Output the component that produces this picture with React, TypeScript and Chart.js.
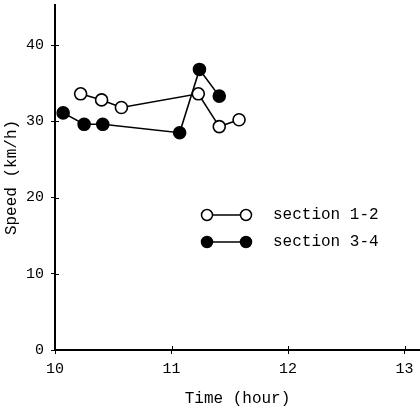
import React, { useEffect, useRef } from "react";
import { Chart, registerables } from "chart.js";

Chart.register(...registerables);

const SERIES_A_NAME = "section 1-2";
const SERIES_B_NAME = "section 3-4";
const timesA = [10.22, 10.4, 10.57, 11.23, 11.41, 11.58];
const speedA = [33.6, 32.8, 31.8, 33.6, 29.3, 30.2];
const timesB = [10.07, 10.25, 10.41, 11.07, 11.24, 11.41];
const speedB = [31.1, 29.6, 29.6, 28.5, 36.8, 33.3];
const xTicks = [10, 11, 12, 13];
const yTicks = [0, 10, 20, 30, 40];
const X_TITLE = "Time (hour)";
const Y_TITLE = "Speed (km/h)";

const FONT = "'Liberation Mono', 'DejaVu Sans Mono', monospace";

const zeroPad = () => ({ left: 0, top: 0, right: 0, bottom: 0 });

const legendPlugin = {
  id: "customLegend",
  afterDraw(chart: any) {
    const ctx = chart.ctx;
    ctx.save();
    const xs = chart.scales.x;
    const ys = chart.scales.y;
    ctx.strokeStyle = "#000";
    ctx.lineWidth = 1;
    for (const v of xTicks) {
      const px = Math.round(xs.getPixelForValue(v)) + 0.5;
      ctx.beginPath();
      ctx.moveTo(px, chart.chartArea.bottom);
      ctx.lineTo(px, chart.chartArea.bottom - 4);
      ctx.stroke();
    }
    for (const v of yTicks) {
      const py = Math.round(ys.getPixelForValue(v)) + 0.5;
      ctx.beginPath();
      ctx.moveTo(chart.chartArea.left, py);
      ctx.lineTo(chart.chartArea.left + 4, py);
      ctx.stroke();
    }
    const items = [
      { name: SERIES_A_NAME, filled: false, y: 215 },
      { name: SERIES_B_NAME, filled: true, y: 242 },
    ];
    for (const it of items) {
      ctx.strokeStyle = "#000";
      ctx.lineWidth = 1.5;
      ctx.beginPath();
      ctx.moveTo(208, it.y);
      ctx.lineTo(246, it.y);
      ctx.stroke();
      for (const cx of [207, 246]) {
        ctx.beginPath();
        ctx.arc(cx, it.y, 5.5, 0, Math.PI * 2);
        ctx.fillStyle = it.filled ? "#000" : "#fff";
        ctx.fill();
        ctx.stroke();
      }
      ctx.fillStyle = "#000";
      ctx.font = "16px " + FONT;
      ctx.textBaseline = "middle";
      ctx.textAlign = "left";
      ctx.fillText(it.name, 273, it.y);
    }
    ctx.restore();
  },
};

export default function App() {
  const ref = useRef<HTMLCanvasElement | null>(null);
  useEffect(() => {
    if (!ref.current) return;
    const chart = new Chart(ref.current, {
      type: "line",
      data: {
        datasets: [
          {
            label: SERIES_A_NAME,
            data: timesA.map((t, i) => ({ x: t, y: speedA[i] })),
            borderColor: "#000",
            borderWidth: 1.6,
            pointRadius: 6,
            pointBorderWidth: 1.6,
            pointBackgroundColor: "#fff",
            pointBorderColor: "#000",
            backgroundColor: "#fff",
            order: 0,
          },
          {
            label: SERIES_B_NAME,
            data: timesB.map((t, i) => ({ x: t, y: speedB[i] })),
            borderColor: "#000",
            borderWidth: 1.6,
            pointRadius: 6,
            pointBorderWidth: 1.6,
            pointBackgroundColor: "#000",
            pointBorderColor: "#000",
            backgroundColor: "#000",
            order: 1,
          },
        ],
      },
      options: {
        animation: false,
        responsive: false,
        maintainAspectRatio: false,
        layout: { autoPadding: false, padding: { top: 5, right: 0, left: 0, bottom: 0 } },
        plugins: { legend: { display: false }, tooltip: { enabled: false } },
        scales: {
          x: {
            type: "linear",
            min: 10,
            max: 13.133,
            afterBuildTicks: (s: any) => {
              s.ticks = xTicks.map((v) => ({ value: v }));
            },
            afterFit: (s: any) => {
              s.height = 59;
              s.paddingLeft = 0;
              s.paddingRight = 0;
              s.getPadding = zeroPad;
            },
            grid: { drawOnChartArea: false, tickLength: 4, color: "#000", lineWidth: 1 },
            border: { display: true, color: "#000", width: 2 },
            ticks: {
              color: "#000",
              font: { family: FONT, size: 15 },
              padding: 6,
              maxRotation: 0,
              autoSkip: false,
            },
            title: {
              display: true,
              text: X_TITLE,
              color: "#000",
              font: { family: FONT, size: 16 },
              padding: { top: 0, bottom: 1 },
            },
          },
          y: {
            type: "linear",
            min: 0,
            max: 45.25,
            afterBuildTicks: (s: any) => {
              s.ticks = yTicks.map((v) => ({ value: v }));
            },
            afterFit: (s: any) => {
              s.width = 55;
              s.paddingTop = 0;
              s.paddingBottom = 0;
              s.getPadding = zeroPad;
            },
            grid: { drawOnChartArea: false, tickLength: 4, color: "#000", lineWidth: 1 },
            border: { display: true, color: "#000", width: 2 },
            ticks: {
              color: "#000",
              font: { family: FONT, size: 15 },
              padding: 7,
            },
            title: {
              display: true,
              text: Y_TITLE,
              color: "#000",
              font: { family: FONT, size: 16 },
              padding: { top: 2.5, bottom: 0 },
            },
          },
        },
      },
      plugins: [legendPlugin],
    });
    return () => chart.destroy();
  }, []);
  return (
    <div style={{ position: "absolute", left: 0, top: 0, width: 420, height: 409, background: "#fff" }}>
      <canvas ref={ref} width={420} height={409} style={{ display: "block", width: 420, height: 409 }} />
    </div>
  );
}
